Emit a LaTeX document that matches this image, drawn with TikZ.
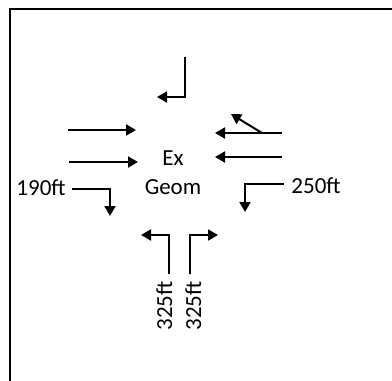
\documentclass[tikz,border=0pt]{standalone}
\usepackage{fontspec}
\setmainfont{Carlito}
\usetikzlibrary{arrows.meta}
\tikzset{
  arr/.style={line width=2pt, -{Triangle[length=10pt,width=11pt]}},
  lbl/.style={font=\fontsize{23}{23}\selectfont, inner sep=0pt, anchor=base, text=black},
  frame/.style={line width=2pt, draw=black}
}
\begin{document}
\begin{tikzpicture}[x=1pt,y=-1pt]
\useasboundingbox (0,0) rectangle (392,381);
\draw[frame] (392,8.5) -- (9.5,8.5) -- (9.5,381);
% top (southbound right turn)
\draw[arr] (185,57) -- (185,97) -- (157,97);
% left approach (eastbound)
\draw[arr] (68,130) -- (136,130);
\draw[arr] (69,162) -- (138,162);
% right approach (westbound)
\draw[arr] (282,133) -- (215,133);
\draw[arr] (262,133) -- (231,114);
\draw[arr] (282,157) -- (215,157);
% labels centre
\node[lbl] (ex) at (173,165) {Ex};
\node[lbl] (geom) at (173,194) {Geom};
% 190ft
\node[lbl] (l190) at (41,195) {190ft};
\draw[arr] (72,189) -- (110,189) -- (110,216);
% 250ft
\node[lbl] (l250) at (316,193) {250ft};
\draw[arr] (284,184) -- (245,184) -- (245,212);
% bottom
\draw[arr] (169,274) -- (169,235) -- (141,235);
\draw[arr] (190,274) -- (190,235) -- (218,235);
\node[lbl, rotate=90] (l325a) at (172,306) {325ft};
\node[lbl, rotate=90] (l325b) at (201,306) {325ft};
\end{tikzpicture}
\end{document}
